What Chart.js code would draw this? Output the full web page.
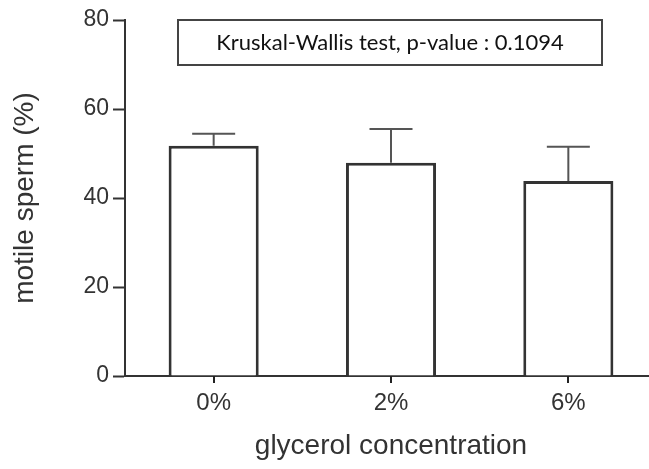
<!DOCTYPE html>
<html>
<head>
  <title>Motile sperm</title>
  <script src="https://cdn.jsdelivr.net/npm/chart.js"></script>
  <style>
    html, body { margin: 0; padding: 0; background: #fff; overflow: hidden; }
    #wrap { width: 660px; height: 469px; }
  </style>
</head>
<body>

<div id="wrap"><canvas id="chart" width="660" height="469"></canvas></div>

<script>
  // values
  const groups = ['0%', '2%', '6%'];
  const motile = [51.75, 47.9, 43.8];
  const errUp = [2.7, 7.6, 7.7];
  const yTicks = [0, 20, 40, 60, 80];
  const note = 'Kruskal-Wallis test, p-value : 0.1094';

  const ink = '#333';

  // SD bars above each bar, through the y scale
  const errorBars = {
    id: 'errorBars',
    afterDatasetsDraw(chart) {
      const ctx = chart.ctx;
      const y = chart.scales.y;
      const meta = chart.getDatasetMeta(0);
      ctx.save();
      ctx.strokeStyle = '#555';
      ctx.lineWidth = 2;
      meta.data.forEach((bar, i) => {
        const top = y.getPixelForValue(motile[i] + errUp[i]);
        const base = y.getPixelForValue(motile[i]);
        ctx.beginPath();
        ctx.moveTo(bar.x, base);
        ctx.lineTo(bar.x, top);
        ctx.moveTo(bar.x - 21.5, top);
        ctx.lineTo(bar.x + 21.5, top);
        ctx.stroke();
      });
      ctx.restore();
    }
  };

  // boxed test result and short ticks under each category centre
  const overlay = {
    id: 'overlay',
    afterDraw(chart) {
      const ctx = chart.ctx;
      const x = chart.scales.x;
      const y0 = chart.scales.y.getPixelForValue(0);
      ctx.save();
      ctx.strokeStyle = '#222';
      ctx.lineWidth = 2;
      groups.forEach((g, i) => {
        const px = Math.round(x.getPixelForValue(i));
        ctx.beginPath();
        ctx.moveTo(px, y0);
        ctx.lineTo(px, y0 + 7);
        ctx.stroke();
      });
      ctx.strokeStyle = '#444';
      ctx.strokeRect(178, 20, 424, 45);
      ctx.fillStyle = '#111';
      ctx.font = '22px Lato';
      ctx.textAlign = 'center';
      ctx.textBaseline = 'middle';
      ctx.fillText(note, 390, 43);
      ctx.restore();
    }
  };

  new Chart(document.getElementById('chart'), {
    type: 'bar',
    data: {
      labels: groups,
      datasets: [{
        data: motile,
        backgroundColor: '#fff',
        borderColor: ink,
        borderWidth: 3,
        barPercentage: 0.508,
        categoryPercentage: 1
      }]
    },
    options: {
      responsive: false,
      animation: false,
      layout: { padding: { top: 20, right: 3 } },
      plugins: { legend: { display: false }, tooltip: { enabled: false } },
      scales: {
        x: {
          afterFit: s => { s.height = 93; },
          grid: { display: true, drawOnChartArea: false, drawTicks: false },
          border: { color: ink, width: 2 },
          ticks: { color: '#333', padding: 13, font: { family: 'Liberation Sans', size: 24 } },
          title: {
            display: true, text: 'glycerol concentration', color: '#333',
            font: { family: 'Liberation Sans', size: 28 }, padding: { top: 0, bottom: 6 }
          }
        },
        y: {
          min: 0, max: 80,
          afterFit: s => { s.width = 125; },
          afterBuildTicks: s => { s.ticks = yTicks.map(v => ({ value: v })); },
          grid: { display: true, drawOnChartArea: false, tickLength: 12, tickWidth: 2, tickColor: ink },
          border: { color: ink, width: 2 },
          ticks: { color: '#333', padding: 4, font: { family: 'Liberation Sans', size: 23 } },
          title: {
            display: true, text: 'motile sperm (%)', color: '#333',
            font: { family: 'Liberation Sans', size: 28 }, padding: { top: 8, bottom: 0 }
          }
        }
      }
    },
    plugins: [errorBars, overlay]
  });
</script>

</body>
</html>
